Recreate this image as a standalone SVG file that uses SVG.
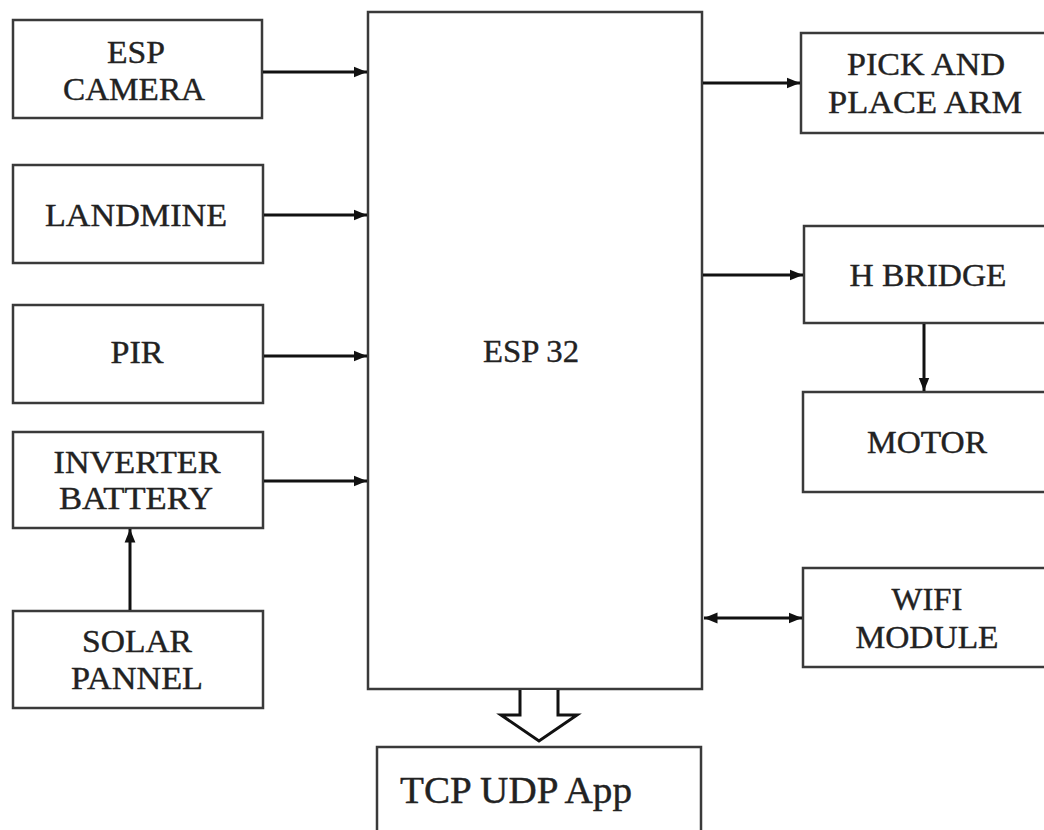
<svg xmlns="http://www.w3.org/2000/svg" width="1044" height="830" viewBox="0 0 1044 830">
<defs>
<style>
.box{fill:#fff;stroke:#3a3a3a;stroke-width:2.5}
.t{font-family:"Liberation Serif","Times New Roman",serif;font-size:32px;fill:#222;stroke:#222;stroke-width:0.4;text-anchor:middle}
.c{stroke:#111;stroke-width:3;fill:none}
</style>
<marker id="ah" viewBox="0 0 10 10" refX="10" refY="5" markerWidth="4.5" markerHeight="4.5" orient="auto-start-reverse" markerUnits="strokeWidth">
<path d="M0,1 L10,5 L0,9 Z" fill="#111"/>
</marker>
</defs>
<rect width="1044" height="830" fill="#fff"/>
<g id="esp-camera"><rect class="box" x="13" y="20" width="249" height="98"/>
<text class="t" x="136" y="63" textLength="58" lengthAdjust="spacingAndGlyphs">ESP</text>
<text class="t" x="134" y="100" textLength="142" lengthAdjust="spacingAndGlyphs">CAMERA</text></g>
<g id="landmine"><rect class="box" x="13" y="165" width="250" height="98"/>
<text class="t" x="136" y="226" textLength="182" lengthAdjust="spacingAndGlyphs">LANDMINE</text></g>
<g id="pir"><rect class="box" x="13" y="305" width="250" height="98"/>
<text class="t" x="137" y="363" textLength="53" lengthAdjust="spacingAndGlyphs">PIR</text></g>
<g id="inverter-battery"><rect class="box" x="13" y="432" width="250" height="96"/>
<text class="t" x="137" y="473" textLength="167" lengthAdjust="spacingAndGlyphs">INVERTER</text>
<text class="t" x="136" y="509" textLength="154" lengthAdjust="spacingAndGlyphs">BATTERY</text></g>
<g id="solar-pannel"><rect class="box" x="13" y="611" width="250" height="97"/>
<text class="t" x="137" y="652" textLength="110" lengthAdjust="spacingAndGlyphs">SOLAR</text>
<text class="t" x="137" y="689" textLength="132" lengthAdjust="spacingAndGlyphs">PANNEL</text></g>
<g id="esp32"><rect class="box" x="368" y="12" width="334" height="677"/>
<text class="t" x="531" y="362" textLength="96" lengthAdjust="spacingAndGlyphs">ESP 32</text></g>
<g id="pick-place"><rect class="box" x="801" y="33" width="260" height="100"/>
<text class="t" x="926" y="75" textLength="158" lengthAdjust="spacingAndGlyphs">PICK AND</text>
<text class="t" x="925" y="113" textLength="194" lengthAdjust="spacingAndGlyphs">PLACE ARM</text></g>
<g id="h-bridge"><rect class="box" x="804" y="226" width="260" height="97"/>
<text class="t" x="928" y="286" textLength="157" lengthAdjust="spacingAndGlyphs">H BRIDGE</text></g>
<g id="motor"><rect class="box" x="803" y="392" width="260" height="100"/>
<text class="t" x="927" y="453" textLength="120" lengthAdjust="spacingAndGlyphs">MOTOR</text></g>
<g id="wifi"><rect class="box" x="803" y="568" width="260" height="99"/>
<text class="t" x="927" y="610" textLength="71" lengthAdjust="spacingAndGlyphs">WIFI</text>
<text class="t" x="927" y="648" textLength="143" lengthAdjust="spacingAndGlyphs">MODULE</text></g>
<g id="tcp-udp"><rect class="box" x="377" y="747" width="324" height="95"/>
<text class="t" x="516" y="803" style="font-size:38px" textLength="232" lengthAdjust="spacingAndGlyphs">TCP UDP App</text></g>
<g id="connectors">
<line class="c" x1="263" y1="72" x2="367" y2="72" marker-end="url(#ah)"/>
<line class="c" x1="264" y1="215" x2="367" y2="215" marker-end="url(#ah)"/>
<line class="c" x1="264" y1="356" x2="367" y2="356" marker-end="url(#ah)"/>
<line class="c" x1="264" y1="481" x2="367" y2="481" marker-end="url(#ah)"/>
<line class="c" x1="130" y1="610" x2="130" y2="529" marker-end="url(#ah)"/>
<line class="c" x1="703" y1="83" x2="800" y2="83" marker-end="url(#ah)"/>
<line class="c" x1="703" y1="275" x2="803" y2="275" marker-end="url(#ah)"/>
<line class="c" x1="924" y1="324" x2="924" y2="391" marker-end="url(#ah)"/>
<line class="c" x1="704" y1="618" x2="802" y2="618" marker-start="url(#ah)" marker-end="url(#ah)"/>
<path d="M520,690 L520,715 L501,715 L539,741 L577,715 L558,715 L558,690" fill="#fff" stroke="#111" stroke-width="3" stroke-linejoin="miter"/>
</g>
</svg>
